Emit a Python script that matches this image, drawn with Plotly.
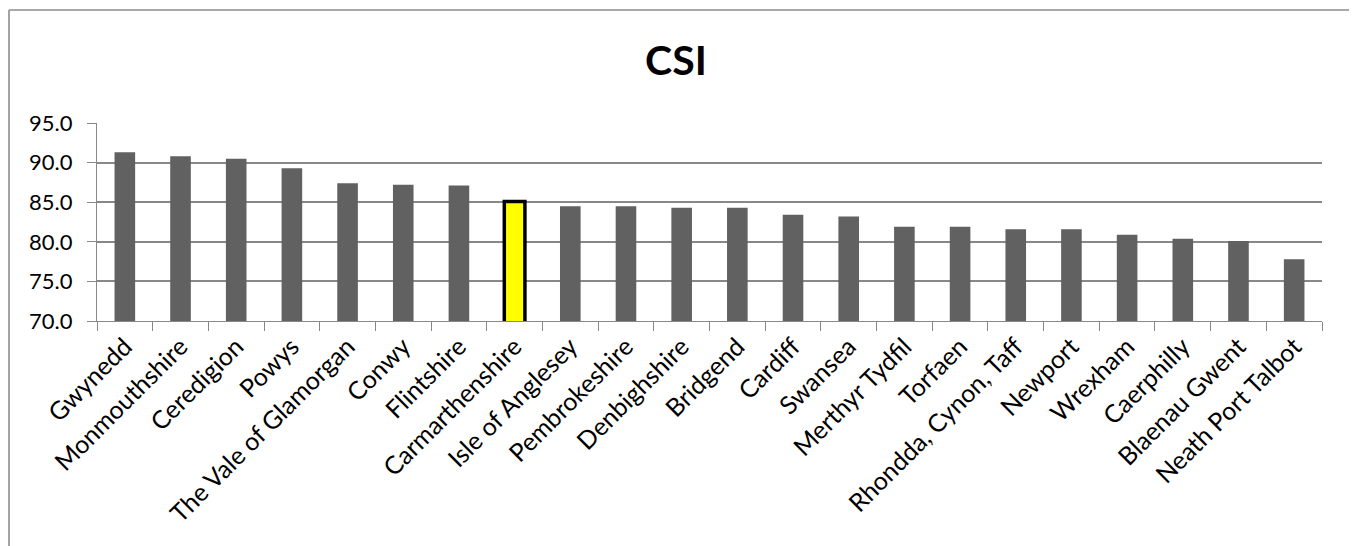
import plotly.graph_objects as go

categories = ["Gwynedd", "Monmouthshire", "Ceredigion", "Powys", "The Vale of Glamorgan",
              "Conwy", "Flintshire", "Carmarthenshire", "Isle of Anglesey", "Pembrokeshire",
              "Denbighshire", "Bridgend", "Cardiff", "Swansea", "Merthyr Tydfil", "Torfaen",
              "Rhondda, Cynon, Taff", "Newport", "Wrexham", "Caerphilly", "Blaenau Gwent",
              "Neath Port Talbot"]
values = [91.3, 90.8, 90.5, 89.3, 87.4, 87.2, 87.1, 85.1, 84.5, 84.5, 84.3,
          84.3, 83.4, 83.2, 81.9, 81.9, 81.6, 81.6, 80.9, 80.4, 80.1, 77.8]
highlight = "Carmarthenshire"
y_ticks = [70, 75, 80, 85, 90, 95]

# the page body adds an 8px offset, so the figure is sized/placed to compensate
W, H = 1349, 538
L, R, T, B = 89, 1314, 115, 313   # plot-area edges in figure pixels
FONT = "Lato"
GRID = "#888888"

colors = ["#FFFF00" if c == highlight else "#616161" for c in categories]
line_colors = ["#000000" if c == highlight else "#616161" for c in categories]
line_widths = [3.5 if c == highlight else 0 for c in categories]

fig = go.Figure(go.Bar(
    x=categories, y=values,
    marker=dict(color=colors, line=dict(color=line_colors, width=line_widths)),
    width=0.37,
))

fig.update_layout(
    width=W, height=H,
    margin=dict(l=L, r=W - R, t=T, b=H - B, autoexpand=False),
    paper_bgcolor="white", plot_bgcolor="white",
    showlegend=False,
    font=dict(family=FONT, color="#000000", size=21),
    title=dict(text="<b>CSI</b>", x=668 / W, xanchor="center", xref="container",
               y=1 - 53 / H, yref="container", yanchor="middle",
               font=dict(family=FONT, size=41, color="#000000")),
)
fig.update_xaxes(
    type="category", tickangle=-45, tickson="boundaries",
    ticks="outside", ticklen=9, tickcolor=GRID, tickwidth=1.3,
    showline=True, linecolor=GRID, linewidth=1.3,
    showgrid=False, tickfont=dict(family=FONT, size=25, color="#000000"),
    automargin=False,
)
fig.update_yaxes(
    range=[70, 95], tickvals=y_ticks, tickformat=".1f",
    ticks="outside", ticklen=9, tickcolor=GRID, tickwidth=1.3,
    showline=True, linecolor=GRID, linewidth=1.3,
    showgrid=True, gridcolor=GRID, gridwidth=1.6,
    zeroline=False, tickfont=dict(family=FONT, size=22, color="#000000"),
    ticklabelstandoff=10,
    automargin=False,
)

def px(x):
    return (x - L) / (R - L)

def py(y):
    return (B - y) / (B - T)

# chart area border (bottom edge lies below the visible page)
for (x0, y0, x1, y1) in [(1, H + 5, 1, 2), (1, 2, 1343, 2), (1343, 2, 1343, H + 5)]:
    fig.add_shape(type="line", xref="paper", yref="paper",
                  x0=px(x0), x1=px(x1), y0=py(y0), y1=py(y1),
                  line=dict(color="#8c8c8c", width=1.6))

fig.write_html("out.html")
